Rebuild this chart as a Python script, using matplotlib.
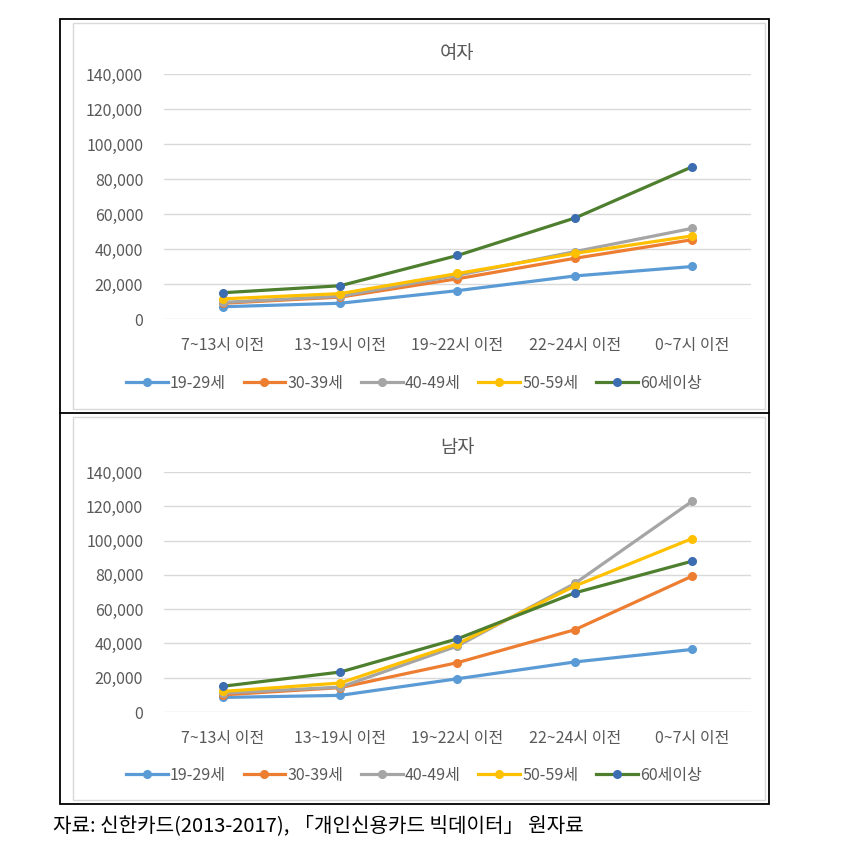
import numpy as np
import matplotlib.pyplot as plt
from matplotlib.patches import Rectangle
from matplotlib.ticker import FuncFormatter

plt.rcParams['font.family'] = ['Noto Sans CJK KR', 'DejaVu Sans']

# categories and series
times = ["7~13시 이전", "13~19시 이전", "19~22시 이전", "22~24시 이전", "0~7시 이전"]
groups = ["19-29세", "30-39세", "40-49세", "50-59세", "60세이상"]

female_19_29 = [7000, 9000, 16200, 24600, 30000]
female_30_39 = [9000, 12500, 23000, 34700, 45300]
female_40_49 = [9500, 13000, 25000, 38500, 51800]
female_50_59 = [11500, 14500, 26000, 37500, 47500]
female_60 = [15000, 19000, 36300, 57700, 87000]

male_19_29 = [8500, 9700, 19400, 29200, 36500]
male_30_39 = [10000, 14200, 28800, 48000, 79300]
male_40_49 = [11000, 14500, 38500, 75000, 123000]
male_50_59 = [12000, 16900, 39800, 73500, 101200]
male_60 = [15000, 23300, 42700, 69500, 88000]

female = [female_19_29, female_30_39, female_40_49, female_50_59, female_60]
male = [male_19_29, male_30_39, male_40_49, male_50_59, male_60]

line_colors = ["#5B9BD5", "#ED7D31", "#A5A5A5", "#FFC000", "#4E7F2E"]
marker_colors = ["#5B9BD5", "#ED7D31", "#A5A5A5", "#FFC000", "#3C6DB0"]
grey_txt = "#595959"

W, H = 854, 847
fig = plt.figure(figsize=(W / 100, H / 100), dpi=100)


def frac(x0, y0, x1, y1):
    # pixel box (top-left origin) -> figure fraction rect
    return [x0 / W, 1 - y1 / H, (x1 - x0) / W, (y1 - y0) / H]


def draw_panel(rect, series, title, title_y, legend_y):
    ax = fig.add_axes(rect)
    x = np.arange(len(times))
    for vals, lc, mc, lab in zip(series, line_colors, marker_colors, groups):
        ax.plot(x, vals, color=lc, lw=2.3, marker="o", ms=5.5,
                mfc=mc, mec=mc, label=lab)
    ax.set_xlim(-0.5, len(times) - 0.5)
    ax.set_ylim(0, 140000)
    ax.set_yticks(np.arange(0, 140001, 20000))
    ax.yaxis.set_major_formatter(FuncFormatter(lambda v, p: f"{int(v):,}"))
    ax.set_xticks(x)
    ax.set_xticklabels(times)
    ax.grid(axis="y", color="#D9D9D9", lw=1)
    ax.set_axisbelow(True)
    for s in ax.spines.values():
        s.set_visible(False)
    ax.tick_params(length=0, colors=grey_txt, labelsize=11.5)
    ax.tick_params(axis="y", pad=15)
    ax.tick_params(axis="x", pad=13)
    fig.text(457 / W, 1 - title_y / H, title, ha="center", va="center",
             fontsize=13.5, color=grey_txt)
    fig.legend(*ax.get_legend_handles_labels(), loc="center",
               bbox_to_anchor=(414 / W, 1 - legend_y / H), ncol=5,
               frameon=False, fontsize=11.5, handlelength=2.6,
               columnspacing=1.1, handletextpad=0.15, labelcolor=grey_txt)
    return ax


draw_panel(frac(164, 74, 751, 319), female, "여자", 53, 383)
draw_panel(frac(164, 472, 751, 712), male, "남자", 447, 775)

# chart borders
for y0, y1 in [(23, 409), (417, 800)]:
    fig.patches.append(Rectangle((73 / W, 1 - y1 / H), (765 - 73) / W, (y1 - y0) / H,
                                 transform=fig.transFigure, fill=False,
                                 ec="#D9D9D9", lw=1))
fig.patches.append(Rectangle((60 / W, 1 - 804 / H), (769 - 60) / W, (804 - 19) / H,
                             transform=fig.transFigure, fill=False, ec="black", lw=1.3))
fig.add_artist(plt.Line2D([60 / W, 769 / W], [1 - 413 / H, 1 - 413 / H],
                          transform=fig.transFigure, color="black", lw=1.3))

fig.text(53 / W, 1 - 826 / H, "자료: 신한카드(2013-2017), 「개인신용카드 빅데이터」 원자료",
         ha="left", va="center", fontsize=14.5, color="black")

fig.savefig("out.png", dpi=100)
